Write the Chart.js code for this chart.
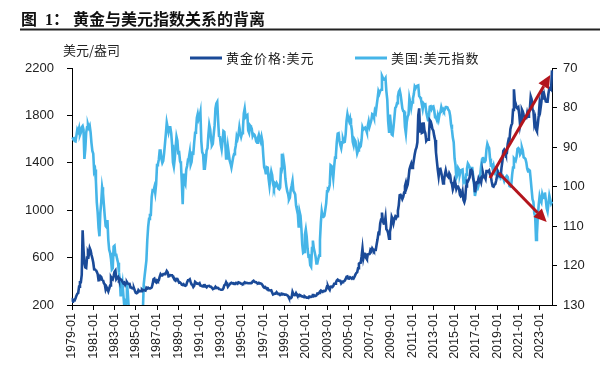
<!DOCTYPE html>
<html>
<head>
<meta charset="utf-8">
<script src="https://cdn.jsdelivr.net/npm/chart.js@4.4.1/dist/chart.umd.min.js"></script>
<style>
html,body{margin:0;padding:0;background:#fff;}
#wrap{width:600px;height:372px;position:relative;}
canvas{display:block;}
</style>
</head>
<body>
<div id="wrap"><canvas id="c" width="600" height="372"></canvas></div>
<script>
// ---------- DATA ----------
const titleText = ['图', '1：', '黄金与美元指数关系的背离'];
const unitLabel = '美元/盎司';
const seriesNames = ['黄金价格:美元', '美国:美元指数'];

// monthly categories 1979-01 .. 2024-03
const firstYear = 1979, lastYear = 2024, lastMonth = 3;
const months = [];
for (let y = firstYear; y <= lastYear; y++) {
  for (let m = 1; m <= 12; m++) {
    if (y === lastYear && m > lastMonth) break;
    months.push(y + '-' + String(m).padStart(2, '0'));
  }
}

// Gold price, USD/oz (left axis)
const gold = [
  227,245,242,239,257,279,295,301,355,392,392,455,      // 1979
  830,665,554,517,513,600,645,627,680,661,623,595,      // 1980
  558,500,499,495,480,461,409,410,444,437,413,410,      // 1981
  384,374,330,350,334,315,339,364,436,423,416,444,      // 1982
  481,491,420,432,438,413,422,416,411,394,382,388,      // 1983
  370,386,394,381,377,378,348,348,341,340,341,321,      // 1984
  303,299,304,325,316,317,317,330,323,326,325,322,      // 1985
  345,339,346,340,342,343,348,376,418,423,398,391,      // 1986
  408,401,409,438,460,450,450,461,460,465,468,487,      // 1987
  477,442,444,452,451,451,437,432,413,406,420,419,      // 1988
  404,388,390,384,371,368,375,365,362,367,392,409,      // 1989
  410,417,393,374,369,352,362,395,389,380,381,378,      // 1990
  384,364,363,358,357,367,368,356,349,359,360,361,      // 1991
  354,354,345,338,337,341,353,343,345,344,335,334,      // 1992
  329,329,330,342,367,372,392,378,355,365,374,383,      // 1993
  387,382,384,378,381,386,385,380,391,389,384,379,      // 1994
  379,377,382,391,385,387,386,383,383,383,386,387,      // 1995
  400,405,396,393,392,385,383,387,383,381,378,369,      // 1996
  355,347,352,344,344,341,324,324,323,325,306,289,      // 1997
  289,297,296,308,299,292,293,284,289,296,294,291,      // 1998
  287,288,286,282,277,261,256,257,265,311,293,283,      // 1999
  284,300,286,280,275,285,282,274,273,270,266,272,      // 2000
  266,262,263,260,272,270,268,273,283,283,276,276,      // 2001
  282,296,294,302,314,322,314,310,319,317,319,333,      // 2002
  357,359,340,328,355,356,351,360,379,379,389,407,      // 2003
  414,405,406,404,383,392,398,400,406,420,439,442,      // 2004
  424,423,434,429,422,431,424,438,456,470,476,510,      // 2005
  549,555,557,610,676,596,633,632,598,586,627,629,      // 2006
  631,665,655,679,667,655,665,665,712,754,806,803,      // 2007
  889,922,980,909,888,889,939,839,829,806,760,816,      // 2008
  858,943,924,890,928,946,934,949,996,1043,1127,1130,   // 2009
  1117,1095,1113,1148,1205,1233,1193,1215,1271,1343,1370,1391, // 2010
  1356,1372,1424,1473,1510,1529,1573,1800,1860,1665,1739,1652, // 2011
  1656,1742,1673,1650,1585,1596,1594,1626,1760,1750,1722,1684, // 2012
  1671,1627,1593,1487,1414,1343,1286,1347,1349,1316,1275,1225, // 2013
  1244,1300,1336,1299,1288,1279,1311,1296,1239,1222,1176,1201, // 2014
  1251,1227,1179,1199,1199,1181,1131,1117,1125,1157,1086,1068, // 2015
  1097,1200,1246,1242,1260,1276,1337,1341,1326,1266,1236,1152, // 2016
  1192,1234,1231,1266,1246,1260,1236,1283,1315,1280,1283,1265, // 2017
  1331,1331,1325,1334,1303,1282,1238,1202,1198,1215,1221,1250, // 2018
  1291,1320,1300,1286,1284,1359,1413,1500,1511,1495,1471,1480, // 2019
  1560,1597,1592,1683,1716,1732,1847,2020,1922,1900,1866,1858, // 2020
  1867,1808,1718,1760,1850,1834,1807,1785,1775,1777,1821,1790, // 2021
  1817,1856,1960,1937,1849,1837,1733,1765,1681,1665,1726,1798, // 2022
  1899,1855,1912,2000,1991,1943,1951,1918,1916,1916,1985,2030, // 2023
  2034,2023,2180                                             // 2024
];

// US dollar index (right axis, reversed)
const dxy = [
  88.0,87.9,87.8,88.5,88.6,87.1,85.6,86.1,85.2,87.0,86.4,85.0,   // 1979
  84.7,85.6,93.0,90.6,86.4,85.0,84.3,85.1,84.6,86.3,89.0,91.0,   // 1980
  91.7,96.2,95.7,98.6,104.0,106.6,110.5,112.6,106.6,104.0,100.2,101.7, // 1981
  104.6,107.5,110.0,110.3,108.5,113.5,116.0,116.8,118.3,121.0,120.7,115.2, // 1982
  115.0,117.3,117.3,118.4,119.3,121.8,123.8,127.8,126.0,124.5,127.4,130.2, // 1983
  133.2,128.7,124.1,126.9,130.5,131.6,137.6,137.8,142.6,143.9,139.6,145.6, // 1984
  149.9,156.8,153.0,145.0,146.8,145.8,139.6,133.8,131.5,124.8,122.6,120.7, // 1985
  118.7,113.6,110.2,108.2,107.2,107.2,102.6,101.0,101.1,100.2,101.6,99.4,  // 1986
  94.6,94.4,93.2,90.9,90.9,93.0,94.0,93.5,91.6,91.6,86.6,83.8,   // 1987
  85.0,86.2,85.0,85.0,86.5,89.4,93.9,95.0,93.0,90.1,87.4,88.4,   // 1988
  91.5,91.4,93.6,94.2,99.0,104.5,96.7,98.8,99.4,95.7,94.8,93.2,  // 1989
  92.7,91.3,94.5,93.8,91.5,91.6,88.8,86.4,85.8,82.6,81.6,83.0,   // 1990
  82.4,81.2,88.5,91.3,91.8,95.5,95.5,93.4,90.9,90.3,87.0,84.4,   // 1991
  85.5,87.9,89.6,89.2,86.8,84.6,80.2,79.0,78.6,83.4,87.2,87.3,   // 1992
  89.4,90.6,88.6,86.0,86.2,88.8,92.9,92.5,89.9,91.6,93.4,94.2,   // 1993
  95.2,93.9,92.6,91.8,90.8,89.6,87.3,87.9,86.9,85.0,86.4,87.4,   // 1994
  86.5,85.4,81.5,80.3,82.4,82.1,81.9,85.8,86.4,84.5,84.8,85.4,   // 1995
  87.2,86.7,86.9,87.5,88.6,88.9,87.7,86.9,87.9,88.6,87.4,88.6,   // 1996
  92.2,95.1,95.7,96.9,95.1,95.2,98.0,99.8,97.7,96.2,97.1,99.3,   // 1997
  100.2,99.3,99.7,99.1,99.5,100.5,100.7,100.3,95.5,91.7,94.5,93.3, // 1998
  95.0,98.1,99.9,101.2,101.9,103.3,102.8,100.8,99.8,98.6,101.1,101.5, // 1999
  102.0,104.8,105.9,106.9,110.4,106.4,107.4,110.5,114.7,116.8,116.6,112.2, // 2000
  110.9,112.7,115.7,117.7,117.6,119.9,120.3,115.6,113.7,115.6,116.6,117.7, // 2001
  119.5,119.5,118.4,117.5,113.5,109.1,106.3,107.6,107.7,107.4,105.9,104.3, // 2002
  101.2,100.5,100.6,99.6,94.6,94.8,96.1,97.9,95.0,92.7,92.0,88.7, // 2003
  86.6,86.5,88.4,89.5,90.3,88.8,88.0,88.8,88.7,86.8,83.4,81.7,   // 2004
  82.8,83.5,82.7,84.2,85.7,88.7,89.6,88.1,88.5,90.0,91.6,90.9,   // 2005
  89.4,90.1,89.8,88.1,85.0,85.6,85.3,85.1,85.6,86.3,84.6,83.5,   // 2006
  84.8,84.0,83.2,81.7,81.9,82.6,80.8,81.3,79.5,77.8,75.9,76.5,   // 2007
  75.8,75.5,72.0,72.5,72.9,73.0,72.6,75.9,78.0,83.5,86.1,81.8,   // 2008
  84.2,86.8,87.0,85.0,82.6,80.1,79.8,78.9,77.2,76.0,75.6,76.7,   // 2009
  78.4,80.2,80.9,81.0,85.0,86.6,83.7,82.3,81.8,77.6,78.7,80.1,   // 2010
  78.7,77.7,76.6,74.7,75.1,74.6,74.5,74.4,77.1,77.4,77.9,79.2,   // 2011
  80.4,79.0,79.3,79.2,81.1,82.2,83.2,82.3,79.8,79.7,80.4,79.8,   // 2012
  79.7,80.7,82.5,82.6,83.2,82.0,83.0,81.7,81.2,79.9,80.7,80.4,   // 2013
  80.9,80.5,79.9,79.9,80.0,80.6,80.9,82.1,84.3,85.6,87.6,88.8,   // 2014
  92.9,94.5,97.8,97.2,95.3,95.7,96.9,95.9,95.8,95.7,98.8,98.4,   // 2015
  99.0,97.0,95.5,94.2,94.6,95.1,96.0,95.3,95.3,97.4,99.6,102.4,  // 2016
  101.2,100.5,100.6,99.8,98.0,97.0,94.8,93.2,92.5,93.8,93.8,93.4, // 2017
  90.6,89.2,89.8,90.3,92.9,94.6,94.5,95.5,94.7,96.0,96.9,96.9,   // 2018
  95.8,96.5,96.7,97.2,97.7,96.9,97.1,97.9,98.6,97.9,97.9,97.3,   // 2019
  97.6,98.8,99.9,100.0,99.6,97.0,95.2,92.9,93.2,93.5,92.5,90.5,  // 2020
  90.3,90.6,91.9,91.5,90.1,90.9,92.6,92.8,93.0,93.9,95.5,96.2,   // 2021
  95.8,96.0,98.3,100.8,103.2,103.9,106.8,107.5,113.5,112.1,107.5,104.6, // 2022
  102.5,103.5,104.0,101.9,102.7,102.9,101.5,103.3,105.5,106.3,104.3,102.3, // 2023
  103.3,104.3,103.8                                               // 2024
];

// Annotation arrows (category, value on the named axis)
const arrowStart1 = ['2018-05', 1272], arrowEnd1 = ['2024-01', 2141];   // gold axis
const arrowStart2 = ['2019-03', 96.6], arrowEnd2 = ['2023-09', 109];    // dollar index axis

// ---------- STYLE ----------
const goldColor = '#1A4A98';
const dxyColor = '#45B5E8';
const arrowColor = '#B3141C';
const latinFont = '"Liberation Sans", Arial, sans-serif';
const cjkFont = '"Noto Sans CJK SC", "Noto Sans", sans-serif';

const decorations = {
  id: 'decorations',
  afterDraw(chart) {
    const ctx = chart.ctx;
    ctx.save();
    // title
    ctx.fillStyle = '#111';
    ctx.textBaseline = 'alphabetic';
    ctx.font = 'bold 16px ' + cjkFont;
    ctx.fillText(titleText[0], 21, 25);
    ctx.font = 'bold 16px "Liberation Serif", serif';
    ctx.fillText('1', 45, 25);
    ctx.font = 'bold 16px ' + cjkFont;
    ctx.fillText('：', 53, 25);
    ctx.fillText(titleText[2], 73, 25);
    ctx.strokeStyle = '#222';
    ctx.lineWidth = 2;
    ctx.beginPath(); ctx.moveTo(20, 29.5); ctx.lineTo(600, 29.5); ctx.stroke();
    // unit
    ctx.font = '13px ' + cjkFont;
    ctx.fillStyle = '#222';
    ctx.textBaseline = 'middle';
    ctx.fillText(unitLabel, 63, 50);
    // legend
    const items = [
      {x0: 190, x1: 222, tx: 226, c: goldColor, t: chart.data.datasets[0].label},
      {x0: 355, x1: 387, tx: 391, c: dxyColor, t: chart.data.datasets[1].label}
    ];
    items.forEach(it => {
      ctx.strokeStyle = it.c; ctx.lineWidth = 3;
      ctx.beginPath(); ctx.moveTo(it.x0, 58); ctx.lineTo(it.x1, 58); ctx.stroke();
      ctx.fillStyle = '#222';
      ctx.font = '13px ' + cjkFont;
      ctx.letterSpacing = '1px';
      ctx.fillText(it.t, it.tx, 58);
      ctx.letterSpacing = '0px';
    });
    ctx.restore();
  },
  afterDatasetsDraw(chart) {
    const ctx = chart.ctx, xs = chart.scales.x;
    const pt = (p, axis) => [xs.getPixelForValue(months.indexOf(p[0])), chart.scales[axis].getPixelForValue(p[1])];
    const drawArrow = (a, b) => {
      const ang = Math.atan2(b[1] - a[1], b[0] - a[0]);
      const L = 13, W = 6;
      const bx = b[0] - L * Math.cos(ang), by = b[1] - L * Math.sin(ang);
      ctx.strokeStyle = arrowColor; ctx.fillStyle = arrowColor; ctx.lineWidth = 3;
      ctx.beginPath(); ctx.moveTo(a[0], a[1]); ctx.lineTo(bx, by); ctx.stroke();
      ctx.beginPath();
      ctx.moveTo(b[0], b[1]);
      ctx.lineTo(bx + W * Math.sin(ang), by - W * Math.cos(ang));
      ctx.lineTo(bx - W * Math.sin(ang), by + W * Math.cos(ang));
      ctx.closePath(); ctx.fill();
    };
    ctx.save();
    drawArrow(pt(arrowStart1, 'yL'), pt(arrowEnd1, 'yL'));
    drawArrow(pt(arrowStart2, 'yR'), pt(arrowEnd2, 'yR'));
    ctx.restore();
  }
};

new Chart(document.getElementById('c'), {
  type: 'line',
  data: {
    labels: months,
    datasets: [
      {label: seriesNames[0], data: gold, yAxisID: 'yL', borderColor: goldColor, borderWidth: 2.6, pointRadius: 0, tension: 0},
      {label: seriesNames[1], data: dxy, yAxisID: 'yR', borderColor: dxyColor, borderWidth: 2.6, pointRadius: 0, tension: 0}
    ]
  },
  options: {
    responsive: false,
    animation: false,
    events: [],
    layout: {padding: {top: 68, left: 0, right: 0, bottom: 0}},
    plugins: {legend: {display: false}, tooltip: {enabled: false}, title: {display: false}},
    scales: {
      x: {
        type: 'category',
        offset: false,
        afterFit(s) { s.height = 67; },
        border: {color: '#000', width: 1},
        grid: {drawOnChartArea: false, color: '#000', tickLength: 5},
        ticks: {
          autoSkip: false, minRotation: 90, maxRotation: 90, padding: 3,
          color: '#222', font: {family: latinFont, size: 12.5},
          callback(v, i) {
            const lab = months[i];
            const y = +lab.slice(0, 4);
            return (lab.slice(5) === '01' && (y - firstYear) % 2 === 0) ? lab : null;
          }
        }
      },
      yL: {
        position: 'left', min: 200, max: 2200,
        afterFit(s) { s.width = 72; },
        border: {color: '#000', width: 1},
        grid: {drawOnChartArea: false, color: '#000', tickLength: 5},
        ticks: {stepSize: 400, padding: 13, color: '#222', font: {family: latinFont, size: 13},
                callback: v => String(v)}
      },
      yR: {
        position: 'right', min: 70, max: 130, reverse: true,
        afterFit(s) { s.width = 48; },
        border: {color: '#000', width: 1},
        grid: {drawOnChartArea: false, color: '#000', tickLength: 5},
        ticks: {stepSize: 10, padding: 6, color: '#222', font: {family: latinFont, size: 13},
                callback: v => String(v)}
      }
    }
  },
  plugins: [decorations]
});
</script>
</body>
</html>
